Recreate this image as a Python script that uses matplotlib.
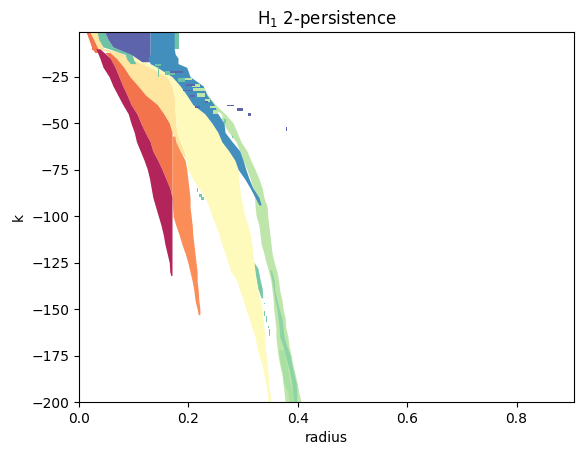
import matplotlib
matplotlib.use('Agg')
import numpy as np
import matplotlib.pyplot as plt

# band edges (radius) read per k row
green_k = list(range(30, 201, 5))
green_left = [.210, .216, .236, .261, .263, .274, .287, .294, .300, .307, .313, .318, .321, .322, .324, .329, .331,
              .333, .338, .342, .347, .351, .353, .355, .356, .358, .360, .360, .362, .364, .367, .371, .373, .375, .377]
green_right = [.225, .236, .249, .267, .282, .289, .296, .307, .314, .322, .329, .335, .338, .344, .345, .347, .349,
               .351, .353, .357, .362, .365, .367, .371, .373, .377, .378, .382, .384, .388, .391, .395, .399, .402, .406]

midgreen_k = [172, 180, 190, 195, 200]
midgreen_left = [.364, .369, .375, .382, .384]
midgreen_right = [.373, .380, .386, .391, .393]

teal_k = [129, 135, 140, 145, 150, 155, 160, 165, 170, 175, 180, 185, 190, 195, 200]
teal_left = [.349, .353, .356, .358, .362, .364, .366, .367, .373, .377, .382, .386, .389, .391, .393]
teal_right = [.352, .357, .358, .362, .366, .371, .373, .375, .380, .386, .389, .393, .397, .398, .398]

teal2_k = [125, 128, 134, 139, 144]
teal2_left = [.318, .320, .324, .327, .333]
teal2_right = [.320, .327, .331, .335, .336]

teal3_k = [1, 10]
teal3_left = [.174, .174]
teal3_right = [.182, .182]

teal4_k = [1, 5, 9, 13, 16, 18]
teal4_left = [.033, .036, .044, .084, .088, .094]
teal4_right = [.047, .053, .062, .097, .100, .104]

purple_k = [1, 5, 9, 13, 17]
purple_left = [.047, .053, .062, .095, .115]
purple_right = [.130, .130, .130, .130, .130]

blue_k = [1, 10, 13, 15, 18, 20, 25, 30, 35, 40, 45, 50, 55, 60, 65, 70, 75, 80, 85, 90, 94]
blue_left = [.130, .130, .130, .126, .130, .143, .170, .185, .197, .208, .230, .243, .254, .261, .274, .285, .291,
             .303, .313, .322, .329]
blue_right = [.174, .174, .176, .181, .181, .197, .203, .227, .234, .247, .254, .265, .267, .280, .294, .300, .305,
              .311, .318, .329, .333]

top_orange_k = [1, 5, 10, 12]
top_orange_left = [.013, .018, .024, .029]
top_orange_right = [.020, .027, .035, .038]

red_k = [10, 15, 20, 25, 30, 35, 40, 45, 50, 55, 60, 65, 70, 75, 80, 85, 90, 95, 100, 105, 110, 115, 120, 125, 130, 132]
red_left = [.031, .038, .044, .055, .062, .071, .080, .090, .095, .101, .105, .112, .119, .125, .129, .132, .135,
            .140, .145, .150, .154, .157, .161, .165, .166, .168]
red_right = [.038, .057, .066, .073, .080, .088, .095, .106, .113, .121, .130, .135, .144, .152, .159, .166, .170,
             .170, .170, .170, .170, .170, .170, .170, .170, .170]

orange_k = [12, 15, 20, 25, 30, 35, 40, 45, 50, 55, 60, 65, 70, 75, 80, 85, 90]
orange_left = [.047, .057, .066, .073, .080, .088, .095, .106, .113, .121, .130, .135, .144, .152, .159, .166, .170]
orange_right = [.056, .068, .082, .093, .108, .122, .143, .155, .165, .170, .170, .170, .170, .170, .170, .170, .170]

lorange_k = [57, 60, 65, 70, 75, 80, 85, 90, 95, 100, 105, 110, 115, 120, 125, 130, 135, 140, 145, 150, 153]
lorange_left = [.170, .170, .170, .170, .170, .170, .170, .170, .171, .172, .177, .183, .188, .194, .199, .203,
                .207, .210, .212, .216, .218]
lorange_right = [.175, .177, .185, .194, .197, .199, .201, .203, .203, .205, .207, .208, .210, .212, .214, .216,
                 .216, .218, .219, .221, .221]

peach_k = [1, 5, 10, 12, 15, 20, 25, 30, 35, 40, 45, 50, 55, 60, 65, 68]
peach_left = [.020, .027, .035, .056, .068, .082, .093, .108, .122, .143, .155, .165, .170, .177, .185, .192]
peach_right = [.033, .038, .046, .075, .093, .130, .161, .170, .174, .175, .176, .177, .179, .185, .192, .196]

yellow_k = [13, 15, 20, 25, 30, 35] + list(range(40, 201, 5))
yellow_left = [.080, .093, .130, .161, .170, .174, .175, .176, .177, .179, .185, .192, .196, .199, .208, .219, .230,
               .238, .243, .250, .256, .261, .267, .272, .278, .289, .294, .300, .305, .311, .316, .322, .325, .329,
               .335, .338, .342, .344, .346]
yellow_right = [.090, .106, .143, .170, .185, .197, .208, .230, .243, .254, .265, .274, .285, .291, .292, .294, .296,
                .300, .303, .309, .313, .316, .318, .320, .322, .324, .327, .331, .335, .336, .338, .340, .340, .342,
                .344, .346, .347, .349, .351]

# small loose cells: k top, k bottom, radius left, radius right
purple_cells = [(40, 41, .271, .283), (42, 43.5, .289, .300), (44.5, 46, .309, .314), (52, 54.5, .378, .380),
                (29, 30, .196, .212), (35, 36, .203, .212), (32, 33, .190, .208), (41, 42, .212, .221),
                (38, 39, .230, .236), (22, 23, .166, .190)]
green_cells = [(25.5, 27, .194, .207), (29, 30.5, .207, .221), (31, 33, .208, .230), (34, 36, .216, .230),
               (37, 38.5, .230, .239), (41, 42, .239, .252), (43, 45, .245, .254), (47, 48.5, .261, .267)]
teal_cells = [(85, 87, .216, .218), (88, 90, .219, .225), (90, 91.5, .223, .228), (57, 58, .279, .281),
              (48, 50, .265, .268), (146.5, 147.5, .338, .340), (151, 154, .338, .340), (154, 157, .342, .344),
              (159, 160, .345, .347), (161, 164.5, .347, .349), (20, 25, .145, .147)]
teal_patches = [(18, 19.5, .139, .150), (22, 24, .157, .175), (26, 28, .181, .194)]
orange_cells = [(8, 10.7, .024, .028)]

c_red = '#b3245a'
c_orange = '#f3734d'
c_lorange = '#fb8d59'
c_peach = '#fee5a0'
c_yellow = '#fefabc'
c_lgreen = '#bee6aa'
c_mgreen = '#a8e0a2'
c_teal = '#6ec3a5'
c_teal_low = '#8cd3a6'
c_teal_mid = '#78c8a5'
c_blue = '#428fbe'
c_purple = '#5e64ac'


def band(ax, k, left, right, color):
    ax.fill_betweenx(-np.array(k), left, right, color=color, lw=0, antialiased=False)


def cells(ax, rows, color):
    for k1, k2, r1, r2 in rows:
        ax.fill_betweenx([-k1, -k2], r1, r2, color=color, lw=0, antialiased=False)


fig = plt.figure(figsize=(5.83, 4.55), dpi=100)
ax = fig.add_axes([79 / 583, 53 / 455, 495 / 583, 370 / 455])

band(ax, green_k, green_left, green_right, c_lgreen)
band(ax, midgreen_k, midgreen_left, midgreen_right, c_mgreen)
band(ax, teal_k, teal_left, teal_right, c_teal_low)
band(ax, teal2_k, teal2_left, teal2_right, c_teal_mid)
band(ax, top_orange_k, top_orange_left, top_orange_right, c_orange)
band(ax, peach_k, peach_left, peach_right, c_peach)
band(ax, yellow_k, yellow_left, yellow_right, c_yellow)
band(ax, orange_k, orange_left, orange_right, c_orange)
band(ax, lorange_k, lorange_left, lorange_right, c_lorange)
band(ax, red_k, red_left, red_right, c_red)
band(ax, teal3_k, teal3_left, teal3_right, c_teal)
band(ax, teal4_k, teal4_left, teal4_right, c_teal)
band(ax, purple_k, purple_left, purple_right, c_purple)
band(ax, blue_k, blue_left, blue_right, c_blue)
cells(ax, teal_patches, c_teal)
cells(ax, green_cells, c_lgreen)
cells(ax, teal_cells, c_teal_mid)
cells(ax, purple_cells, c_purple)
cells(ax, orange_cells, c_orange)

ax.set_xlim(0, 0.905)
ax.set_ylim(-200, -1)
ax.set_xlabel('radius')
ax.set_ylabel('k')
ax.set_title('H$_1$ 2-persistence')
fig.savefig('out.png', dpi=100)
